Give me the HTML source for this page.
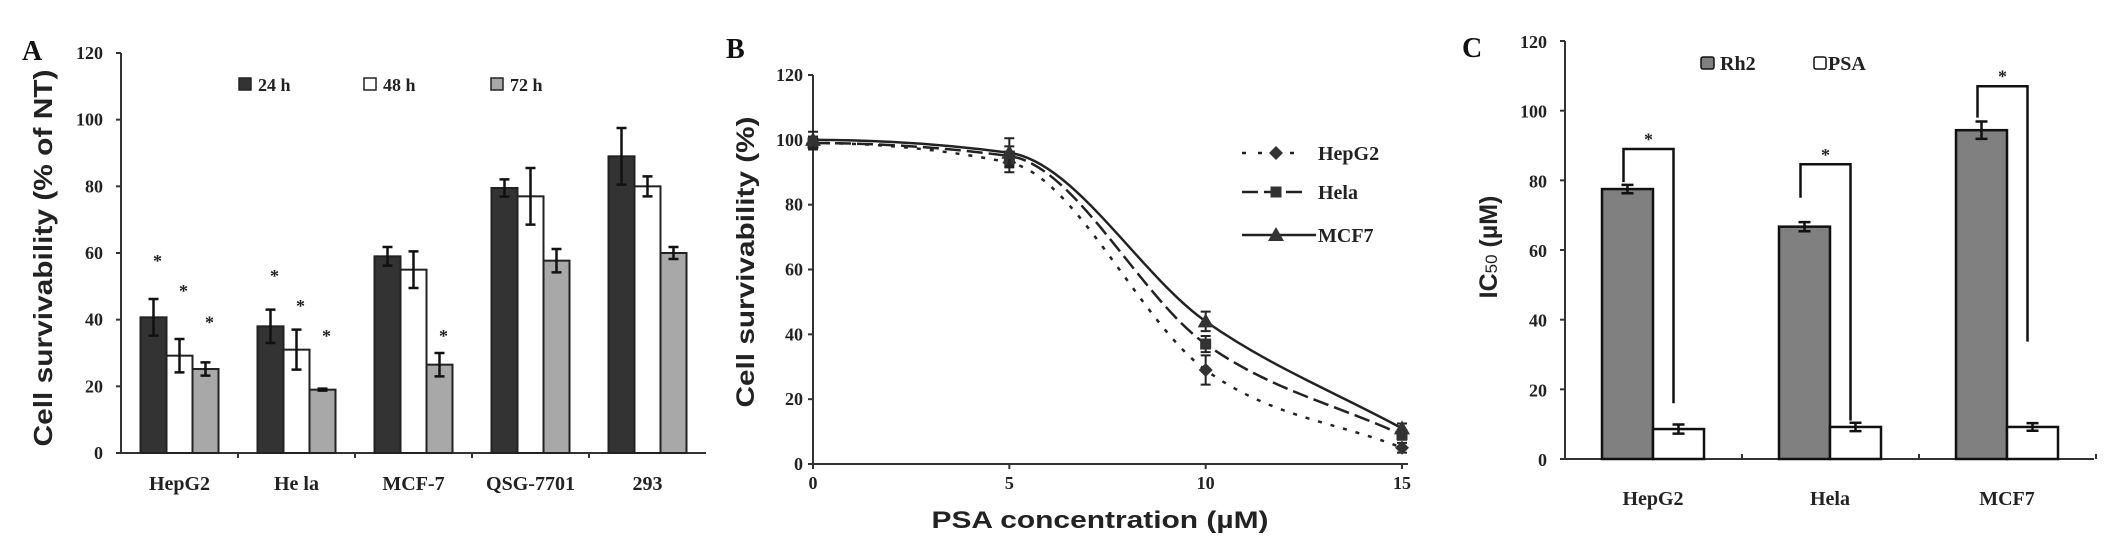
<!DOCTYPE html>
<html><head><meta charset="utf-8"><style>
html,body{margin:0;padding:0;background:#fff}
svg{display:block}
.tk{font-family:"Liberation Serif",serif;font-weight:bold;font-size:18px;fill:#222}
.xl{font-family:"Liberation Serif",serif;font-weight:bold;font-size:20px;fill:#222}
.ttl{font-family:"Liberation Sans",sans-serif;font-weight:bold;fill:#222}
.pl{font-family:"Liberation Serif",serif;font-weight:bold;font-size:28px;fill:#111}
</style></head><body>
<svg id="fig" width="2126" height="546" viewBox="0 0 2126 546" xmlns="http://www.w3.org/2000/svg">
<g id="pa"></g>
<g id="pb"></g>
<g id="pc"></g>
</svg>
<script>
// ---------- Panel A data ----------
const aCats = ["HepG2","He la","MCF-7","QSG-7701","293"];
const aSeries = ["24 h","48 h","72 h"];
const a24 = [40.7,38,59,79.5,89];
const a48 = [29.2,31,55,77,80];
const a72 = [25.2,19,26.5,57.7,60];
const a24err = [5.5,5,2.8,2.6,8.5];
const a48err = [5,6,5.5,8.5,3];
const a72err = [2,0.3,3.5,3.5,1.8];
const aStars = [[58.5,49.5,40],[54,45,36],[null,null,36],[null,null,null],[null,null,null]];
const aTicks = [0,20,40,60,80,100,120];
// ---------- Panel B data ----------
const bX = [0,5,10,15];
const bHepG2 = [99,93,29,5];
const bHela = [99,95,37,9];
const bMCF7 = [100,96,44,11];
const bHepG2err = [2,3,4.5,1.5];
const bHelaerr = [2,3,2.5,1.5];
const bMCF7err = [2.5,4.5,3,1.5];
const bSeriesNames = ["HepG2","Hela","MCF7"];
const bYTicks = [0,20,40,60,80,100,120];
const bXTicks = [0,5,10,15];
// ---------- Panel C data ----------
const cCats = ["HepG2","Hela","MCF7"];
const cRh2 = [77.5,66.7,94.4];
const cPSA = [8.6,9.2,9.2];
const cRh2err = [1.2,1.3,2.5];
const cPSAerr = [1.3,1.2,1.1];
const cBracketTop = [89,84.6,107];
const cBracketLeftEnd = [79.5,75,98];
const cBracketRightEnd = [16,11,33.7];
const cStar = [93.5,89,111.5];
const cTicks = [0,20,40,60,80,100,120];

const NS="http://www.w3.org/2000/svg";
function mk(parent,tag,attrs,text){const e=document.createElementNS(NS,tag);for(const k in attrs)e.setAttribute(k,attrs[k]);if(text!==undefined)e.textContent=text;parent.appendChild(e);return e;}

// ================= Panel A =================
(function(){
const g=document.getElementById('pa');
const x0=121,x1=706,yb=453,yt=53;
const y=v=>yb-(v/120)*(yb-yt);
const cw=117, cx=i=>x0+58.5+i*cw, bw=26;
let e;
e=mk(g,'line',{x1:x0,y1:yt,x2:x0,y2:yb,stroke:'#333','stroke-width':2});

e=mk(g,'line',{x1:x0,y1:yb,x2:x1,y2:yb,stroke:'#333','stroke-width':2});

aTicks.forEach(t=>{
 mk(g,'line',{x1:x0-5,y1:y(t),x2:x0,y2:y(t),stroke:'#333','stroke-width':2});
 e=mk(g,'text',{x:103,y:y(t)+6,'text-anchor':'end',class:'tk'},t);
 
});
for(let i=1;i<aCats.length;i++){mk(g,'line',{x1:x0+i*cw,y1:yb,x2:x0+i*cw,y2:yb+5,stroke:'#333','stroke-width':2});}
const fills=['#333','#fff','#a8a8a8'];
const vals=[a24,a48,a72], errs=[a24err,a48err,a72err];
aCats.forEach((c,i)=>{
 for(let s=0;s<3;s++){
  const bx=cx(i)-39+s*bw, v=vals[s][i];
  e=mk(g,'rect',{x:bx,y:y(v),width:bw,height:yb-y(v),fill:fills[s],stroke:'#222','stroke-width':2});
  
  const mx=bx+bw/2, hi=y(v+errs[s][i]), lo=y(v-errs[s][i]);
  e=mk(g,'path',{d:`M${mx},${hi}V${lo}M${mx-5},${hi}H${mx+5}M${mx-5},${lo}H${mx+5}`,stroke:'#111','stroke-width':2.5,fill:'none'});
  
  const st=aStars[i][s];
  if(st!==null){e=mk(g,'text',{x:mx+4,y:y(st)+9,'text-anchor':'middle',class:'tk'},'*');
   }
 }
 e=mk(g,'text',{x:cx(i),y:490,'text-anchor':'middle',class:'xl'},c);
 
});
const lx=[239,364,491];
aSeries.forEach((s,k)=>{
 e=mk(g,'rect',{x:lx[k],y:78,width:12,height:12,fill:fills[k],stroke:'#222','stroke-width':1.5});
 
 e=mk(g,'text',{x:lx[k]+19,y:91,class:'tk','font-size':'17'},s);
 
});
e=mk(g,'text',{x:0,y:0,class:'ttl','font-size':'26',transform:'translate(52,258) rotate(-90)','text-anchor':'middle',textLength:'377',lengthAdjust:'spacingAndGlyphs'},'Cell survivability (% of NT)');

e=mk(g,'text',{x:22,y:60,class:'pl'},'A');

})();

// ================= Panel B =================
(function(){
const g=document.getElementById('pb');
const x0=813,xr=1402,yb=464,yt=75;
const X=v=>x0+v/15*(xr-x0), Y=v=>yb-v/120*(yb-yt);
let e;
e=mk(g,'line',{x1:x0,y1:yt,x2:x0,y2:yb,stroke:'#333','stroke-width':2});

e=mk(g,'line',{x1:x0,y1:yb,x2:xr+6,y2:yb,stroke:'#333','stroke-width':2});

bYTicks.forEach(t=>{mk(g,'line',{x1:x0-5,y1:Y(t),x2:x0,y2:Y(t),stroke:'#333','stroke-width':2});
 e=mk(g,'text',{x:x0-10,y:Y(t)+6,'text-anchor':'end',class:'tk','font-size':'16'},t);
 });
bXTicks.forEach(t=>{mk(g,'line',{x1:X(t),y1:yb,x2:X(t),y2:yb+5,stroke:'#333','stroke-width':2});
 e=mk(g,'text',{x:X(t),y:489,'text-anchor':'middle',class:'tk'},t);
 });
function mono(xs,ys){
 const n=xs.length,px=xs.map(X),py=ys.map(Y),d=[],m=[];
 for(let i=0;i<n-1;i++)d.push((py[i+1]-py[i])/(px[i+1]-px[i]));
 for(let i=0;i<n;i++){
  if(i===0)m.push(0);else if(i===n-1)m.push(d[n-2]);
  else{const s0=d[i-1],s1=d[i],p=(s0+s1)/2;m.push((Math.sign(s0)+Math.sign(s1))*Math.min(Math.abs(s0),Math.abs(s1),0.5*Math.abs(p)));}
 }
 let s=`M${px[0]},${py[0]}`;
 for(let i=0;i<n-1;i++){const h=(px[i+1]-px[i])/3;s+=`C${px[i]+h},${py[i]+m[i]*h} ${px[i+1]-h},${py[i+1]-m[i+1]*h} ${px[i+1]},${py[i+1]}`;}
 return s;
}
const series=[bHepG2,bHela,bMCF7], serr=[bHepG2err,bHelaerr,bMCF7err];
const dashes=['4,9','16,6','none'];
function marker(k,cx,cy,parent){
 if(k===0)return mk(parent,'path',{d:`M${cx},${cy-7}L${cx+7},${cy}L${cx},${cy+7}L${cx-7},${cy}Z`,fill:'#333'});
 if(k===1)return mk(parent,'rect',{x:cx-5.5,y:cy-5.5,width:11,height:11,fill:'#333'});
 return mk(parent,'path',{d:`M${cx},${cy-8}L${cx+8},${cy+6}L${cx-8},${cy+6}Z`,fill:'#333'});
}
series.forEach((vals,k)=>{
 e=mk(g,'path',{d:mono(bX,vals),fill:'none',stroke:'#222','stroke-width':2.5,'stroke-dasharray':dashes[k]});
 
 bX.forEach((xv,i)=>{
  const hi=Y(vals[i]+serr[k][i]),lo=Y(vals[i]-serr[k][i]),cx=X(xv);
  e=mk(g,'path',{d:`M${cx},${hi}V${lo}M${cx-5},${hi}H${cx+5}M${cx-5},${lo}H${cx+5}`,stroke:'#222','stroke-width':2,fill:'none'});
  
  e=marker(k,cx,Y(vals[i]),g);
  
 });
});
const ly=[153,192,235];
bSeriesNames.forEach((n,k)=>{
 e=mk(g,'line',{x1:1242,y1:ly[k],x2:k===2?1316:1306,y2:ly[k],stroke:'#222','stroke-width':2.5,'stroke-dasharray':dashes[k]==='4,9'?'4,12':dashes[k]});
 
 e=marker(k,1276,ly[k],g);
 
 e=mk(g,'text',{x:1318,y:ly[k]+7,class:'xl'},n);
 
});
e=mk(g,'text',{x:1100,y:528,class:'ttl','font-size':'24','text-anchor':'middle',textLength:'337',lengthAdjust:'spacingAndGlyphs'},'PSA concentration (\u00b5M)');

e=mk(g,'text',{x:0,y:0,class:'ttl','font-size':'25',transform:'translate(754,262) rotate(-90)','text-anchor':'middle',textLength:'291',lengthAdjust:'spacingAndGlyphs'},'Cell survivability (%)');

e=mk(g,'text',{x:726,y:58,class:'pl'},'B');

})();

// ================= Panel C =================
(function(){
const g=document.getElementById('pc');
const x0=1565,x1=2094,yb=459,yt=41;
const Y=v=>yb-v/120*(yb-yt);
const cw=177, cx=i=>x0+88+i*cw, bw=51;
let e;
e=mk(g,'line',{x1:x0,y1:yt,x2:x0,y2:yb,stroke:'#333','stroke-width':2});

e=mk(g,'line',{x1:x0,y1:yb,x2:x1,y2:yb,stroke:'#333','stroke-width':2});

cTicks.forEach(t=>{mk(g,'line',{x1:x0-5,y1:Y(t),x2:x0,y2:Y(t),stroke:'#333','stroke-width':2});
 e=mk(g,'text',{x:1547,y:Y(t)+7,'text-anchor':'end',class:'tk','font-size':'19'},t);
 });
for(let i=1;i<=cCats.length;i++)mk(g,'line',{x1:x0+i*cw,y1:yb,x2:x0+i*cw,y2:yb-5,stroke:'#333','stroke-width':2});
cCats.forEach((c,i)=>{
 const rx=cx(i)-bw, px=cx(i);
 e=mk(g,'rect',{x:rx,y:Y(cRh2[i]),width:bw,height:yb-Y(cRh2[i]),fill:'#808080',stroke:'#111','stroke-width':2.5});
 
 e=mk(g,'rect',{x:px,y:Y(cPSA[i]),width:bw,height:yb-Y(cPSA[i]),fill:'#fff',stroke:'#111','stroke-width':2.5});
 
 [[rx+bw/2,cRh2[i],cRh2err[i]],[px+bw/2,cPSA[i],cPSAerr[i]]].forEach(([mx,v,er])=>{
  const hi=Y(v+er),lo=Y(v-er);
  e=mk(g,'path',{d:`M${mx},${hi}V${lo}M${mx-6},${hi}H${mx+6}M${mx-6},${lo}H${mx+6}`,stroke:'#111','stroke-width':2.5,fill:'none'});
  
 });
 const lx=rx+bw/2-4, rxx=px+bw/2-5;
 e=mk(g,'path',{d:`M${lx},${Y(cBracketLeftEnd[i])}V${Y(cBracketTop[i])}H${rxx}V${Y(cBracketRightEnd[i])}`,stroke:'#111','stroke-width':2.5,fill:'none'});
 
 e=mk(g,'text',{x:(lx+rxx)/2,y:Y(cStar[i])+12,'text-anchor':'middle',class:'tk','font-size':'24'},'*');
 
 e=mk(g,'text',{x:cx(i),y:505,'text-anchor':'middle',class:'xl'},c);
 
});
e=mk(g,'rect',{x:1701,y:57,width:13,height:12,rx:2,fill:'#808080',stroke:'#111','stroke-width':1.5});

e=mk(g,'text',{x:1720,y:70,class:'xl','font-size':'19'},'Rh2');

e=mk(g,'rect',{x:1814,y:57,width:12,height:12,rx:2,fill:'#fff',stroke:'#111','stroke-width':1.5});

e=mk(g,'text',{x:1828,y:70,class:'xl','font-size':'19'},'PSA');

e=mk(g,'text',{x:0,y:0,class:'ttl','font-size':'25',transform:'translate(1497,247) rotate(-90)','text-anchor':'middle'});

mk(e,'tspan',{},'IC');mk(e,'tspan',{'font-size':'17','font-weight':'normal'},'50');mk(e,'tspan',{},' (\u00b5M)');
e=mk(g,'text',{x:1462,y:57,class:'pl'},'C');

})();
</script>
</body></html>
